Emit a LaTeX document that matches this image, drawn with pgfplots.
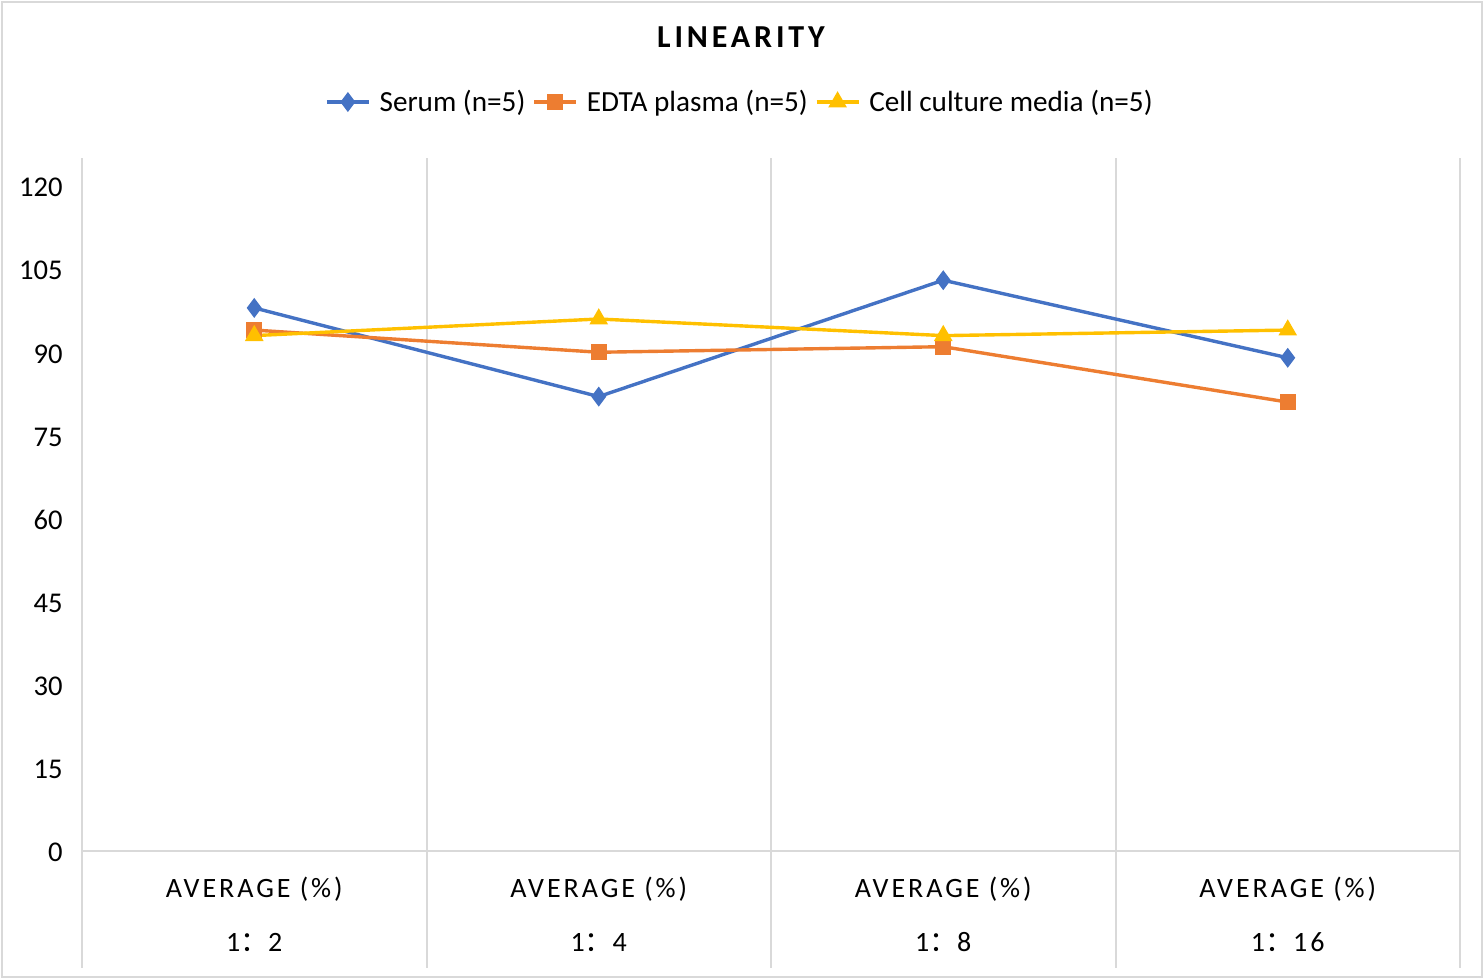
\documentclass[border=0pt]{standalone}
\usepackage{fontspec}
\setmainfont{Carlito}
\newfontfamily\cjk{Noto Sans CJK SC}
\newfontfamily\spaced[LetterSpace=10.5]{Carlito}
\newfontfamily\titlefont[LetterSpace=12]{Carlito}
\usepackage{pgfplots}
\pgfplotsset{compat=1.18}
\definecolor{cA}{HTML}{4472C4}
\definecolor{cB}{HTML}{ED7D31}
\definecolor{cC}{HTML}{FFC000}
\definecolor{gridc}{HTML}{D9D9D9}
\begin{document}
\begin{tikzpicture}
\path[use as bounding box] (-41pt,-64.5pt) rectangle (701pt,425.5pt);
\draw[gridc, line width=0.9pt] (-40pt,-63pt) rectangle (700pt,424.5pt);
\begin{axis}[at={(0pt,0pt)}, anchor=south west, scale only axis,
  width=689pt, height=332.5pt,
  xmin=-0.5, xmax=3.5, ymin=0, ymax=120,
  ytick={0,15,...,120}, xtick={0,1,2,3},
  xticklabels={{AVERAGE (\%)\\[10pt]1{\cjk ：}2},{AVERAGE (\%)\\[10pt]1{\cjk ：}4},{AVERAGE (\%)\\[10pt]1{\cjk ：}8},{AVERAGE (\%)\\[10pt]1{\cjk ：}16}},
  axis line style={draw=none}, major tick length=0pt, clip=false,
  /pgf/number format/assume math mode=true,
  yticklabel style={anchor=east, inner sep=0pt, xshift=-9.5pt, yshift=-0.8pt, font=\fontsize{14.3}{17}\selectfont},
  xticklabel style={anchor=north, inner sep=0pt, yshift=-13pt, align=center, font=\fontsize{14}{17}\selectfont\spaced},
  legend columns=3,
  legend style={draw=none, at={(0.4782,1.1263)}, anchor=center, font=\fontsize{14.6}{17}\selectfont,
    column sep=1.5pt, /tikz/every odd column/.append style={column sep=2.5pt}},
  legend image code/.code={\draw[mark repeat=2,mark phase=2] plot coordinates {(0pt,0pt)(10.5pt,0pt)(21pt,0pt)};},
]
\draw[gridc, line width=1pt] (axis cs:-0.5,125.05) -- (axis cs:-0.5,-21.11);
\draw[gridc, line width=1pt] (axis cs:0.5,125.05) -- (axis cs:0.5,-21.11);
\draw[gridc, line width=1pt] (axis cs:1.5,125.05) -- (axis cs:1.5,-21.11);
\draw[gridc, line width=1pt] (axis cs:2.5,125.05) -- (axis cs:2.5,-21.11);
\draw[gridc, line width=1pt] (axis cs:3.5,125.05) -- (axis cs:3.5,-21.11);
\draw[gridc, line width=1pt] (axis cs:-0.5,0) -- (axis cs:3.5,0);
\node[font=\fontsize{16}{19}\selectfont\titlefont\bfseries] at (axis description cs:0.4782,1.224) {LINEARITY};
\addplot[cA, line width=1.7pt, mark=diamond*, mark size=3.6pt, mark options={solid}] coordinates {(0,98)(1,82)(2,103)(3,89)};
\addlegendentry{Serum (n=5)}
\addplot[cB, line width=1.7pt, mark=square*, mark size=3.1pt, mark options={solid}] coordinates {(0,94)(1,90)(2,91)(3,81)};
\addlegendentry{EDTA plasma (n=5)}
\addplot[cC, line width=1.7pt, mark=triangle*, mark size=3.7pt, mark options={solid}] coordinates {(0,93)(1,96)(2,93)(3,94)};
\addlegendentry{Cell culture media (n=5)}
\end{axis}
\end{tikzpicture}
\end{document}
